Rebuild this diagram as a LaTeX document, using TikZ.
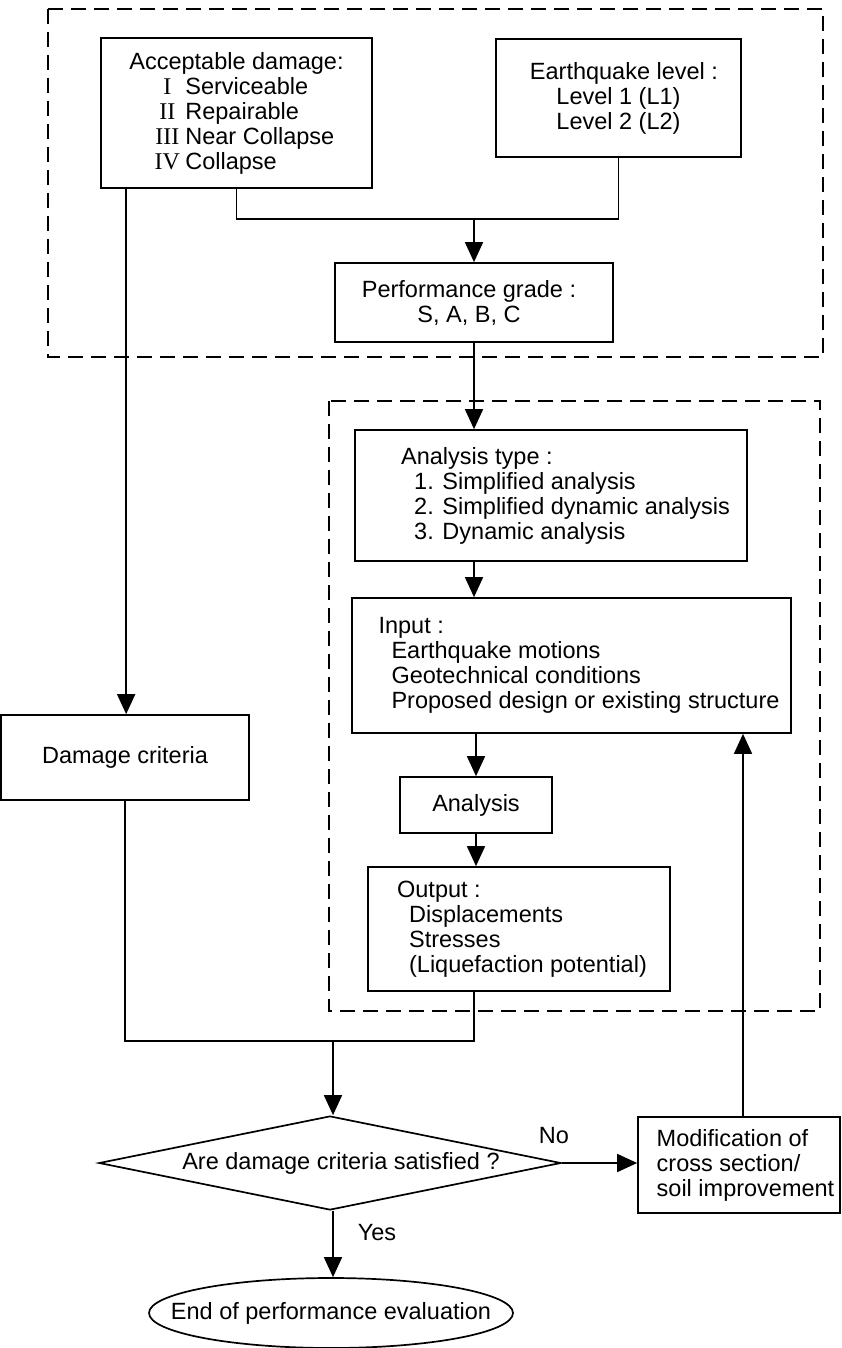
\documentclass[tikz,border=0pt]{standalone}
\usepackage{fontspec}
\setmainfont{Liberation Sans}
\newfontfamily\romfont{Liberation Serif}
\usetikzlibrary{arrows.meta,shapes.geometric}
\newcommand{\rn}[1]{\hspace*{24pt}\makebox[28pt][c]{\romfont\fontsize{24}{25}\selectfont #1}\hspace{4pt}}
\begin{document}
\begin{tikzpicture}[x=1pt,y=-1pt,
  every node/.style={font=\fontsize{23.5}{25}\selectfont, inner sep=0pt},
  box/.style={draw, line width=1.7pt, minimum width=#1},
  arr/.style={line width=1.7pt, -{Triangle[width=18pt,length=20pt]}},
  ln/.style={line width=1.7pt},
  dbox/.style={line width=1.7pt, dash pattern=on 15pt off 8pt}]
\useasboundingbox (0,0) rectangle (842,1348);
% dashed groups
\draw[dbox] (48,9) rectangle (823,357);
\draw[dbox] (329,401) rectangle (820,1011);
% boxes
\node[box=271pt, minimum height=150pt, align=left] (acc) at (236.5,113)
  {Acceptable damage:\\ \rn{I}Serviceable\\ \rn{II}Repairable\\ \rn{III}Near Collapse\\ \rn{IV}Collapse};
\node[box=245pt, minimum height=118pt, align=center] (eq) at (618.5,98)
  {\hspace*{11pt}Earthquake level :\\ Level 1 (L1)\\ Level 2 (L2)};
\node[box=278pt, minimum height=79pt, align=center] (perf) at (474,302.5)
  {Performance grade :\hspace*{10pt}\\ S, A, B, C\hspace*{10pt}};
\node[box=392pt, minimum height=131pt, align=left] (atype) at (551,495.5)
  {\hspace*{29pt}Analysis type :\\ \hspace*{42pt}1. Simplified analysis\\ \hspace*{42pt}2. Simplified dynamic analysis\\ \hspace*{42pt}3. Dynamic analysis};
\node[box=439pt, minimum height=135pt, align=left] (input) at (571.5,665.5)
  {\hspace*{15pt}Input :\\ \hspace*{28pt}Earthquake motions\\ \hspace*{28pt}Geotechnical conditions\\ \hspace*{28pt}Proposed design or existing structure};
\node[box=152pt, minimum height=56pt] (anal) at (476,805) {Analysis};
\node[box=302pt, minimum height=124pt, align=left] (out) at (519,929)
  {\hspace*{6pt}Output :\\ \hspace*{18pt}Displacements\\ \hspace*{18pt}Stresses\\ \hspace*{18pt}(Liquefaction potential)};
\node[box=248pt, minimum height=85pt] (dmg) at (125,757.5) {Damage criteria};
\node[draw, diamond, aspect=4.915, line width=1.7pt, minimum width=462pt, minimum height=94pt] (dia) at (330,1163)
  {\hspace*{22pt}Are damage criteria satisfied ?};
\node[box=202pt, minimum height=96pt, align=left] (mod) at (739,1165)
  {\hspace*{13pt}Modification of\\ \hspace*{13pt}cross section/\\ \hspace*{13pt}soil improvement};
\node[draw, ellipse, line width=1.7pt, minimum width=364pt, minimum height=70pt] (end) at (331,1313)
  {\raisebox{-3pt}{\makebox[0pt]{End of performance evaluation}}};
\node (no) at (554,1136) {No};
\node (yes) at (377,1233) {Yes};
% junctions
\coordinate (j1) at (perf.north |- 0,219);
\coordinate (jb) at (333,1041);
% connectors
\draw[ln] (acc.south) |- (j1);
\draw[ln] (eq.south) |- (j1);
\draw[arr] (j1) -- (perf.north);
\draw[arr] (perf.south) -- (perf.south |- atype.north);
\draw[arr] (perf.south |- atype.south) -- (perf.south |- input.north);
\draw[arr] (anal.north |- input.south) -- (anal.north);
\draw[arr] (anal.south) -- (anal.south |- out.north);
\draw[arr] ([xshift=26pt]acc.south west) -- ([xshift=26pt]acc.south west |- dmg.north);
\draw[ln] (dmg.south) |- (jb);
\draw[ln] (perf.south |- out.south) |- (jb);
\draw[arr] (jb) -- (jb |- dia.north);
\draw[arr] (dia.east) -- (dia.east -| mod.west);
\draw[arr] ([xshift=4pt]mod.north) -- ([xshift=4pt]mod.north |- input.south);
\draw[arr] (jb |- dia.south) -- (jb |- end.north);
\end{tikzpicture}
\end{document}
